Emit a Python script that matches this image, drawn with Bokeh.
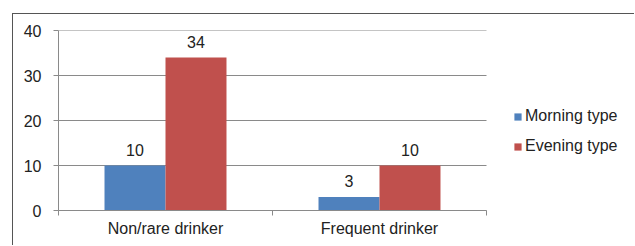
import numpy as np
from bokeh.plotting import figure
from bokeh.models import (Range1d, FixedTicker, LinearAxis, Legend, LegendItem,
                          ColumnDataSource)
from bokeh.embed import file_html
from bokeh.resources import INLINE
from bokeh.core.properties import value

categories = ["Non/rare drinker", "Frequent drinker"]
morning = [10, 3]
evening = [34, 10]
series_names = ["Morning type", "Evening type"]
colors = ["#4F81BD", "#C0504D"]
y_ticks = [0, 10, 20, 30, 40]

FONT = "Liberation Sans"
GRID = "#8a8a8a"
TXT = "#222222"
bw = 0.285
n = len(categories)
centers = np.arange(n) + 0.5

# frame spans 428 px for the categories; extended to the right to host the legend
x_end = n * (630 - 58) / 428

p = figure(width=622, height=232, output_backend="svg", toolbar_location=None,
           x_range=Range1d(0, x_end), y_range=Range1d(0, 40),
           min_border_left=45, min_border_right=5, min_border_top=16,
           min_border_bottom=36)
p.styles = {"margin-left": "12px", "margin-top": "13px",
            "border-left": "1px solid #555555", "border-top": "1px solid #555555"}
p.outline_line_color = None
p.xgrid.visible = False
p.ygrid.visible = False

# horizontal grid lines limited to the category area
p.segment(x0=[0] * len(y_ticks), x1=[n] * len(y_ticks), y0=y_ticks, y1=y_ticks,
          line_color=GRID, line_width=1)

src_m = ColumnDataSource(dict(x=centers - bw / 2, top=morning, lab=[str(v) for v in morning]))
src_e = ColumnDataSource(dict(x=centers + bw / 2, top=evening, lab=[str(v) for v in evening]))
rm = p.vbar(x="x", top="top", bottom=0, width=bw, source=src_m, fill_color=colors[0], line_color=None)
re_ = p.vbar(x="x", top="top", bottom=0, width=bw, source=src_e, fill_color=colors[1], line_color=None)
for s in (src_m, src_e):
    p.text(x="x", y="top", text="lab", source=s, text_align="center", text_baseline="bottom",
           y_offset=-10, text_font=value(FONT), text_font_size="16px", text_color=TXT)

# y axis
ya = p.yaxis[0]
ya.ticker = FixedTicker(ticks=y_ticks)
ya.axis_line_color = GRID
ya.major_tick_line_color = GRID
ya.major_tick_out = 5
ya.major_tick_in = 0
ya.minor_tick_line_color = None
ya.major_label_standoff = 12
ya.major_label_text_font = FONT
ya.major_label_text_font_size = "16px"
ya.major_label_text_color = TXT

# x axis: boundary ticks
xa = p.xaxis[0]
xa.bounds = (0, n)
xa.ticker = FixedTicker(ticks=list(range(n + 1)))
xa.major_label_overrides = {i: "" for i in range(n + 1)}
xa.major_label_text_font_size = "0px"
xa.major_label_standoff = 0
xa.axis_line_color = GRID
xa.major_tick_line_color = GRID
xa.major_tick_out = 5
xa.major_tick_in = 0
xa.minor_tick_line_color = None

# x axis: category labels
xl = LinearAxis(ticker=FixedTicker(ticks=list(centers)), bounds=(0, n),
                major_label_overrides={float(c): s for c, s in zip(centers, categories)})
xl.axis_line_color = None
xl.major_tick_line_color = None
xl.minor_tick_line_color = None
xl.major_label_standoff = -2
xl.major_label_text_font = FONT
xl.major_label_text_font_size = "16px"
xl.major_label_text_color = TXT
p.add_layout(xl, "below")

legend = Legend(items=[LegendItem(label=series_names[0], renderers=[rm]),
                       LegendItem(label=series_names[1], renderers=[re_])],
                location=(455, 54), glyph_width=9, glyph_height=9, label_height=20,
                spacing=10, padding=0, margin=0, label_standoff=3,
                label_text_font=FONT, label_text_font_size="16px", label_text_color=TXT,
                border_line_color=None, background_fill_alpha=0)
p.add_layout(legend, "center")

open("out.html", "w").write(file_html(p, INLINE))
